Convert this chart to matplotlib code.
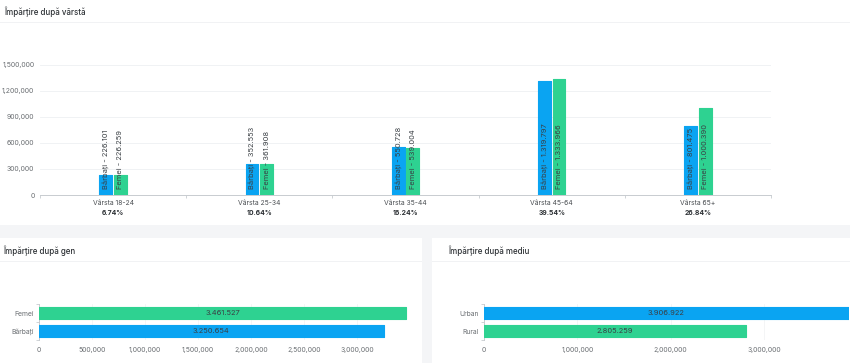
import numpy as np
import matplotlib.pyplot as plt
from matplotlib.patches import Rectangle
from matplotlib.ticker import FuncFormatter

plt.rcParams['font.family'] = ['Inter', 'DejaVu Sans']

# data
age_groups = ['Vârsta 18-24', 'Vârsta 25-34', 'Vârsta 35-44', 'Vârsta 45-64', 'Vârsta 65+']
age_share = ['6.74%', '10.64%', '16.24%', '39.54%', '26.84%']
men_by_age = [226101, 352553, 550728, 1319797, 801475]
women_by_age = [226259, 361908, 539004, 1333966, 1000390]

gender_labels = ['Bărbați', 'Femei']
gender_values = [3250654, 3461527]

area_labels = ['Rural', 'Urban']
area_values = [2805259, 3906922]

BLUE = '#0aa4f2'
GREEN = '#2ed291'
TXT = '#3a3f44'
GRAY = '#6b6f73'

W, H = 850, 363
fig = plt.figure(figsize=(W / 100, H / 100), dpi=100)
fig.patch.set_facecolor('#f4f5f7')


def px_axes(left, top, right, bottom):
    return fig.add_axes([left / W, 1 - bottom / H, (right - left) / W, (bottom - top) / H])


def panel(left, top, right, bottom, title, title_x, title_y, sep_y):
    fig.patches.append(Rectangle((left / W, 1 - bottom / H), (right - left) / W, (bottom - top) / H,
                                 transform=fig.transFigure, facecolor='white', edgecolor='none', zorder=-10))
    fig.patches.append(Rectangle((left / W, 1 - (sep_y + 1) / H), (right - left) / W, 1.2 / H,
                                 transform=fig.transFigure, facecolor='#f1f2f4', edgecolor='none', zorder=-9))
    fig.text(title_x / W, 1 - title_y / H, title, fontsize=5.7, color='#2b2f33', va='center', ha='left',
             weight='medium')


panel(0, 0, 850, 225, 'Împărțire după vârstă', 4, 12, 22)
panel(0, 238, 422, 363, 'Împărțire după gen', 3, 251, 261)
panel(432, 238, 850, 363, 'Împărțire după mediu', 448, 251, 261)

comma = FuncFormatter(lambda v, p: f'{int(v):,}')

# top: age
ax = px_axes(40, 39, 771, 195)
ax.set_facecolor('none')
x = np.arange(len(age_groups))
w = 0.088
off = 0.05
ax.bar(x - off, men_by_age, w, color=BLUE, edgecolor=BLUE, linewidth=0.8, joinstyle='round', zorder=3)
ax.bar(x + off, women_by_age, w, color=GREEN, edgecolor=GREEN, linewidth=0.8, joinstyle='round', zorder=3)
for i in range(len(age_groups)):
    ax.annotate(f"Bărbați - {men_by_age[i]:,}".replace(',', '.'), (x[i] - off, 0), xytext=(0, 4),
                textcoords='offset points', rotation=90, ha='center', va='bottom', fontsize=5.4, color=TXT, zorder=4)
    ax.annotate(f"Femei - {women_by_age[i]:,}".replace(',', '.'), (x[i] + off, 0), xytext=(0, 4),
                textcoords='offset points', rotation=90, ha='center', va='bottom', fontsize=5.4, color=TXT, zorder=4)
    ax.annotate(age_groups[i], (x[i], 0), xycoords=('data', 'axes fraction'), xytext=(0, -6),
                textcoords='offset points', ha='center', va='center', fontsize=4.9, color='#4a4e52')
    ax.annotate(age_share[i], (x[i], 0), xycoords=('data', 'axes fraction'), xytext=(0, -13),
                textcoords='offset points', ha='center', va='center', fontsize=4.9, color='#2b2f33', weight='bold')
ax.set_xlim(-0.5, len(age_groups) - 0.5)
ax.set_ylim(0, 1.8e6)
ax.set_yticks(np.arange(0, 1.5e6 + 1, 3e5))
ax.yaxis.set_major_formatter(comma)
ax.set_xticks(np.arange(-0.5, len(age_groups), 1))
ax.set_xticklabels([])
ax.tick_params(axis='x', length=2.5, color='#c8ccd0', width=0.6)
ax.tick_params(axis='y', length=0, labelsize=5.0, labelcolor=GRAY, pad=4)
ax.grid(axis='y', color='#eef0f2', linewidth=0.6, zorder=0)
for s in ['top', 'right', 'left']:
    ax.spines[s].set_visible(False)
ax.spines['bottom'].set_color('#c8ccd0')
ax.spines['bottom'].set_linewidth(0.7)


def hbars(ax, labels, values, colors, xmax, step):
    y = np.arange(len(labels))
    ax.set_facecolor('none')
    ax.barh(y, values, 0.64, color=colors, edgecolor=colors, linewidth=0.8, joinstyle='round', zorder=3)
    for yi, v in zip(y, values):
        ax.text(v / 2, yi, f'{v:,}'.replace(',', '.'), ha='center', va='center', fontsize=5.4, color=TXT, zorder=4)
    ax.set_xlim(0, xmax)
    ax.set_ylim(-0.5, len(labels) - 0.5)
    ax.set_xticks(np.arange(0, xmax, step))
    ax.xaxis.set_major_formatter(comma)
    ax.set_yticks(y)
    ax.set_yticklabels(labels)
    ax.set_yticks(np.arange(-0.5, len(labels), 1), minor=True)
    ax.tick_params(axis='y', which='major', length=0, labelsize=4.9, labelcolor=GRAY, pad=4)
    ax.tick_params(axis='y', which='minor', length=2.5, color='#c8ccd0', width=0.6)
    ax.tick_params(axis='x', length=0, labelsize=4.9, labelcolor=GRAY, pad=5)
    ax.grid(axis='x', color='#f3f4f5', linewidth=0.6, zorder=0)
    for s in ['top', 'right', 'bottom']:
        ax.spines[s].set_visible(False)
    ax.spines['left'].set_color('#c8ccd0')
    ax.spines['left'].set_linewidth(0.7)


ax2 = px_axes(39, 304, 410, 340)
hbars(ax2, gender_labels, gender_values, [BLUE, GREEN], 3.5e6, 5e5)

ax3 = px_axes(484, 304, 849, 340)
hbars(ax3, area_labels, area_values, [GREEN, BLUE], 3.91e6, 1e6)

fig.savefig('out.png', dpi=100, facecolor=fig.get_facecolor())
